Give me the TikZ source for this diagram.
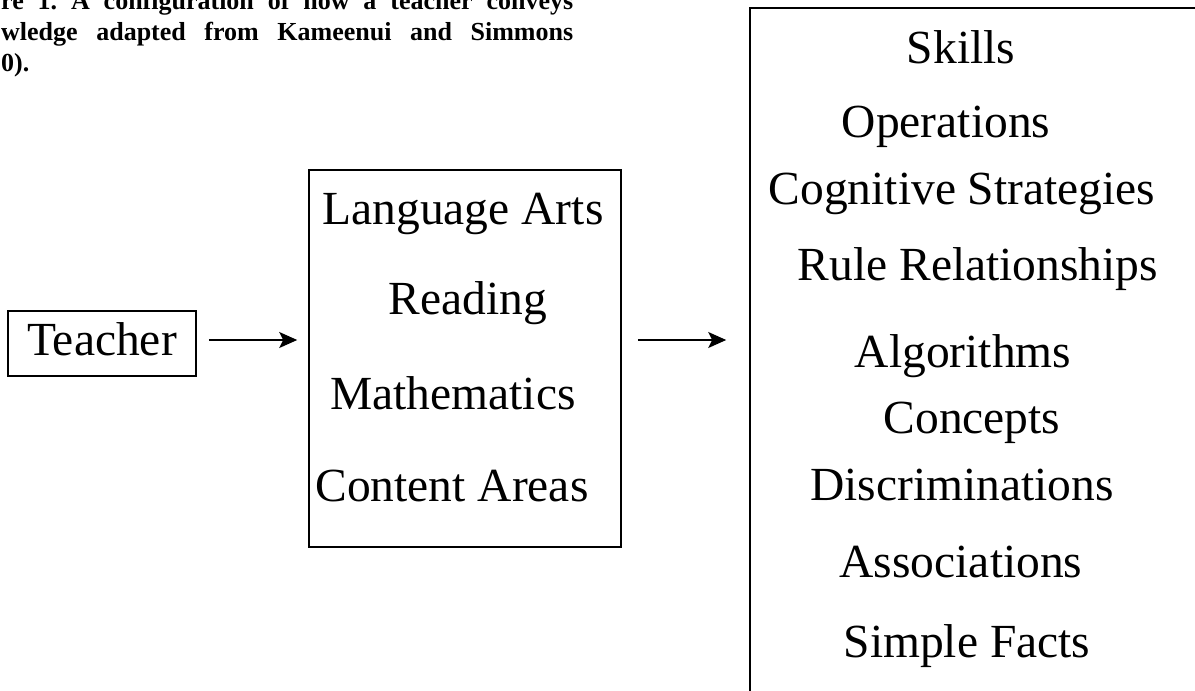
\documentclass[tikz,border=0pt]{standalone}
\usepackage{fontspec}
\setmainfont{Liberation Serif}
\usetikzlibrary{arrows.meta,calc}
\frenchspacing
\begin{document}
\begin{tikzpicture}[x=1pt,y=-1pt,
    box/.style={draw, line width=1.6pt, inner sep=0pt},
    item/.style={anchor=base, inner sep=0pt, font=\fontsize{47.5}{57}\selectfont},
    capline/.style={anchor=base west, inner sep=0pt, font=\fontsize{26}{31}\selectfont\bfseries},
    flow/.style={-{Stealth[length=18pt,width=16pt,inset=4pt]}, line width=1.8pt}]
\useasboundingbox (0,0) rectangle (1195,691);
% caption, as far as the page shows it
\node[capline] (cap1) at (1,9) {\makebox[572pt][s]{re 1. A configuration of how a teacher conveys}};
\node[capline] (cap2) at (1,40) {\makebox[572pt][s]{wledge adapted from Kameenui and Simmons}};
\node[capline] (cap3) at (1,71) {0).};
% boxes
\node[box, minimum width=188pt, minimum height=65pt, text height=32pt, text depth=9pt,
      font=\fontsize{47.5}{57}\selectfont] (teacher) at (102,343.5) {Teacher};
\node[box, minimum width=312pt, minimum height=377pt] (subjects) at (465,358.5) {};
\node[box, minimum width=510pt, minimum height=760pt] (levels) at (1005,388) {};
% subject areas
\node[item] (langarts) at (463,224) {Language Arts};
\node[item] (reading) at (468,314) {Reading};
\node[item] (maths) at (453,409) {Mathematics};
\node[item] (content) at (452,501) {Content Areas};
% kinds of knowledge
\node[item] (skills) at (961,63) {Skills};
\node[item] (operations) at (946,137) {Operations};
\node[item] (strategies) at (962,204) {Cognitive Strategies};
\node[item] (rules) at (978,280) {Rule Relationships};
\node[item] (algorithms) at (963,367) {Algorithms};
\node[item] (concepts) at (972,433) {Concepts};
\node[item] (discrim) at (962,500) {Discriminations};
\node[item] (assoc) at (961,577) {Associations};
\node[item] (facts) at (967,657) {Simple Facts};
% arrows
\coordinate (mid) at ($(teacher.east)+(0,-3.5)$);
\draw[flow, shorten <=12pt, shorten >=11pt] (mid) -- (mid -| subjects.west);
\draw[flow, shorten <=16pt, shorten >=23pt] (mid -| subjects.east) -- (mid -| levels.west);
\end{tikzpicture}
\end{document}
